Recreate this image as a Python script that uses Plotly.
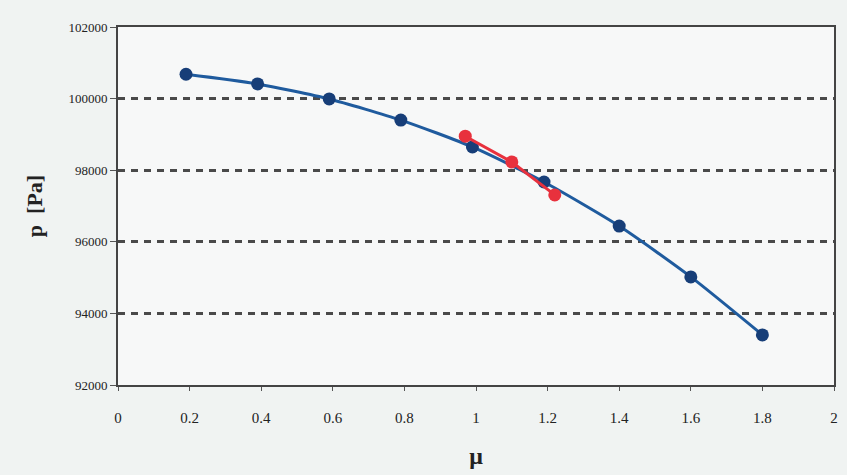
import plotly.graph_objects as go

# Pressure p [Pa] versus mu, two measurement series
mu_blue = [0.19, 0.39, 0.59, 0.79, 0.99, 1.19, 1.40, 1.60, 1.80]
p_blue = [100680, 100410, 99990, 99400, 98650, 97670, 96440, 95020, 93400]

mu_red = [0.97, 1.10, 1.22]
p_red = [98950, 98230, 97310]

x_ticks = [0, 0.2, 0.4, 0.6, 0.8, 1, 1.2, 1.4, 1.6, 1.8, 2]
x_tick_text = ["0", "0.2", "0.4", "0.6", "0.8", "1", "1.2", "1.4", "1.6", "1.8", "2"]
y_ticks = [92000, 94000, 96000, 98000, 100000, 102000]
y_tick_text = ["92000", "94000", "96000", "98000", "100000", "102000"]

serif = "Liberation Serif"

fig = go.Figure()
fig.add_trace(go.Scatter(
    x=mu_blue, y=p_blue, mode="lines+markers",
    line=dict(color="#1f5b9e", width=3, shape="spline", smoothing=0.6),
    marker=dict(color="#173e78", size=13),
    showlegend=False,
))
fig.add_trace(go.Scatter(
    x=mu_red, y=p_red, mode="lines+markers",
    line=dict(color="#e8313d", width=3),
    marker=dict(color="#e8313d", size=13),
    showlegend=False,
))

fig.update_layout(
    width=847, height=475,
    margin=dict(l=118, r=9, t=27, b=90),
    paper_bgcolor="#f0f3f2",
    plot_bgcolor="#f7f8f8",
    font=dict(family=serif, color="#222"),
    xaxis=dict(
        range=[0, 2], tickvals=x_ticks, ticktext=x_tick_text,
        showgrid=False, zeroline=False,
        showline=True, linecolor="#444", linewidth=2, mirror=True,
        ticks="outside", ticklen=4, tickcolor="#555",
        ticklabelstandoff=14,
        tickfont=dict(family=serif, size=15, color="#222"),
        title=dict(text="<b>μ</b>", font=dict(family=serif, size=24, color="#222"), standoff=22),
    ),
    yaxis=dict(
        range=[92000, 102000], tickvals=y_ticks, ticktext=y_tick_text,
        showgrid=True, gridcolor="#4a4a4a", gridwidth=2.5, griddash="7px,6px",
        zeroline=False,
        showline=True, linecolor="#444", linewidth=2, mirror=True,
        ticks="outside", ticklen=6, tickcolor="#555",
        tickfont=dict(family=serif, size=13, color="#222"),
        title=dict(text="<b>p  [Pa]</b>", font=dict(family=serif, size=22, color="#222"), standoff=20),
    ),
)

fig.write_html("out.html")
